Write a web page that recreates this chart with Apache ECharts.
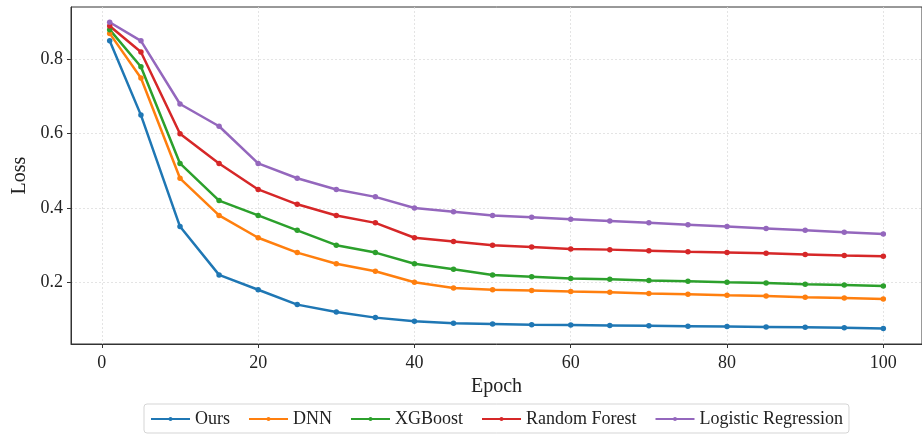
<!DOCTYPE html>
<html>
<head>
<meta charset="utf-8">
<script src="https://cdn.jsdelivr.net/npm/echarts@6/dist/echarts.min.js"></script>
<style>
  html, body { margin: 0; padding: 0; background: #fff; }
  #chart { width: 922px; height: 435px; }
</style>
</head>
<body>
<div id="chart"></div>
<script>
// epochs and loss values
var epochs = [1, 5, 10, 15, 20, 25, 30, 35, 40, 45, 50, 55, 60, 65, 70, 75, 80, 85, 90, 95, 100];
var ours = [0.85, 0.65, 0.35, 0.22, 0.18, 0.14, 0.12, 0.105, 0.095, 0.09, 0.088, 0.086, 0.085, 0.084, 0.083, 0.082, 0.081, 0.08, 0.079, 0.078, 0.076];
var dnn = [0.87, 0.75, 0.48, 0.38, 0.32, 0.28, 0.25, 0.23, 0.2, 0.185, 0.18, 0.178, 0.175, 0.173, 0.17, 0.168, 0.165, 0.163, 0.16, 0.158, 0.155];
var xgboost = [0.88, 0.78, 0.52, 0.42, 0.38, 0.34, 0.3, 0.28, 0.25, 0.235, 0.22, 0.215, 0.21, 0.208, 0.205, 0.203, 0.2, 0.198, 0.195, 0.193, 0.19];
var randomForest = [0.89, 0.82, 0.6, 0.52, 0.45, 0.41, 0.38, 0.36, 0.32, 0.31, 0.3, 0.295, 0.29, 0.288, 0.285, 0.282, 0.28, 0.278, 0.275, 0.272, 0.27];
var logistic = [0.9, 0.85, 0.68, 0.62, 0.52, 0.48, 0.45, 0.43, 0.4, 0.39, 0.38, 0.375, 0.37, 0.365, 0.36, 0.355, 0.35, 0.345, 0.34, 0.335, 0.33];
var xTicks = [0, 20, 40, 60, 80, 100];
var yTicks = [0.2, 0.4, 0.6, 0.8];

var FONT = '"Liberation Serif", "DejaVu Serif", serif';
var colors = ['#1f77b4', '#ff7f0e', '#2ca02c', '#d62728', '#9467bd'];

function pairs(vals) {
    return epochs.map(function(e, i) { return [e, vals[i]]; });
}
function mkSeries(name, vals) {
    return {
        name: name,
        type: 'line',
        data: pairs(vals),
        symbol: 'circle',
        symbolSize: 5.5,
        lineStyle: { width: 2.5 },
        emphasis: { disabled: true },
        animation: false
    };
}

var chart = echarts.init(document.getElementById('chart'), null, { renderer: 'canvas' });
chart.setOption({
    color: colors,
    animation: false,
    grid: { left: 71, right: -2, top: 7, bottom: 91, show: true, borderColor: '#333', borderWidth: 1, containLabel: false },
    legend: {
        left: 144,
        bottom: 2,
        itemWidth: 39,
        itemHeight: 5,
        itemGap: 18,
        padding: [6, 6, 5, 6],
        borderColor: '#d5d5d5',
        borderWidth: 1,
        borderRadius: 3,
        textStyle: { fontFamily: FONT, fontSize: 18, color: '#222', padding: [3, 0, 0, 0] },
        data: ['Ours', 'DNN', 'XGBoost', 'Random Forest', 'Logistic Regression']
    },
    xAxis: {
        type: 'value',
        min: -3.95,
        max: 104.95,
        name: 'Epoch',
        nameLocation: 'middle',
        nameGap: 29,
        nameTextStyle: { fontFamily: FONT, fontSize: 20, color: '#222' },
        axisLine: { onZero: false, lineStyle: { color: '#333', width: 1 } },
        axisTick: { show: true, length: 4, inside: false, customValues: xTicks, lineStyle: { color: '#333' } },
        axisLabel: { customValues: xTicks, margin: 10, fontFamily: FONT, fontSize: 18, color: '#222' },
        splitLine: { show: true, customValues: xTicks, lineStyle: { color: '#dedede', type: [2, 2], width: 0.8 } }
    },
    yAxis: {
        type: 'value',
        min: 0.034,
        max: 0.941,
        name: 'Loss',
        nameLocation: 'middle',
        nameGap: 35,
        nameTextStyle: { fontFamily: FONT, fontSize: 20, color: '#222' },
        axisLine: { show: true, onZero: false, lineStyle: { color: '#333', width: 1 } },
        axisTick: { show: true, length: 4, customValues: yTicks, lineStyle: { color: '#333' } },
        axisLabel: {
            customValues: yTicks, margin: 8, fontFamily: FONT, fontSize: 18, color: '#222',
            formatter: function(v) { return v.toFixed(1); }
        },
        splitLine: { show: true, customValues: yTicks, lineStyle: { color: '#dedede', type: [2, 2], width: 0.8 } }
    },
    series: [
        mkSeries('Ours', ours),
        mkSeries('DNN', dnn),
        mkSeries('XGBoost', xgboost),
        mkSeries('Random Forest', randomForest),
        mkSeries('Logistic Regression', logistic)
    ]
});
</script>
</body>
</html>
